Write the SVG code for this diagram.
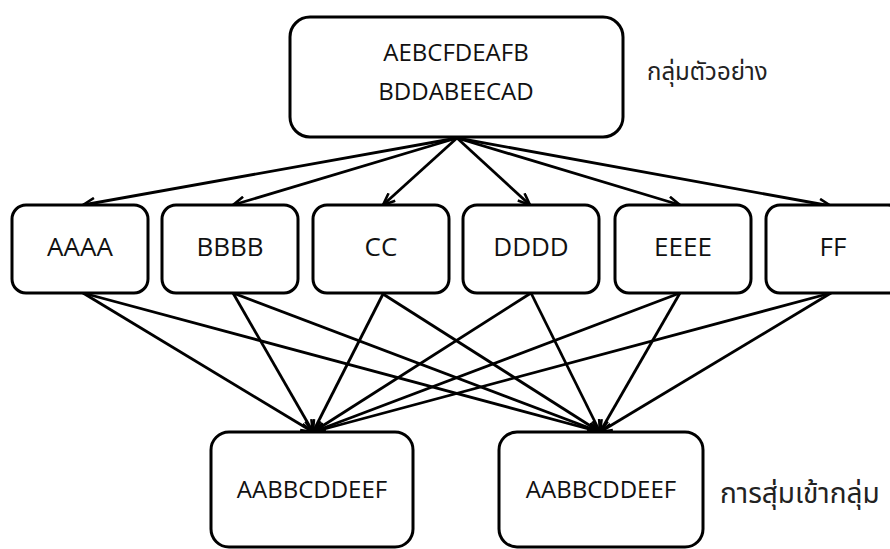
<svg xmlns="http://www.w3.org/2000/svg" width="890" height="549" viewBox="0 0 890 549">
<style>
.box{fill:#fff;stroke:#000;stroke-width:3}
.t{font-family:"Open Sans","Noto Sans","DejaVu Sans",sans-serif;font-size:24px;fill:#111;text-anchor:middle}
.m{font-size:26px}
.th{font-family:"Noto Sans Thai","Leelawadee UI","Tahoma","Noto Sans","DejaVu Sans",sans-serif;fill:#222}
.c line{stroke:#000;stroke-width:2.8}
</style>
<defs>
<marker id="ah" viewBox="0 0 14 12" refX="13" refY="6" markerWidth="14" markerHeight="12" markerUnits="userSpaceOnUse" orient="auto">
<path d="M1,1 L13,6 L1,11" fill="none" stroke="#000" stroke-width="2.6"/>
</marker>
</defs>
<rect width="890" height="549" fill="#fff"/>
<g class="c" id="connectors">
<line x1="457" y1="138" x2="83" y2="205" marker-end="url(#ah)"/>
<line x1="457" y1="138" x2="233" y2="205" marker-end="url(#ah)"/>
<line x1="457" y1="138" x2="383" y2="205" marker-end="url(#ah)"/>
<line x1="457" y1="138" x2="530" y2="205" marker-end="url(#ah)"/>
<line x1="457" y1="138" x2="680" y2="205" marker-end="url(#ah)"/>
<line x1="457" y1="138" x2="831" y2="206" marker-end="url(#ah)"/>
<line x1="83" y1="293" x2="313" y2="432" marker-end="url(#ah)"/>
<line x1="233" y1="293" x2="313" y2="432" marker-end="url(#ah)"/>
<line x1="383" y1="294" x2="313" y2="432" marker-end="url(#ah)"/>
<line x1="531" y1="293" x2="313" y2="432" marker-end="url(#ah)"/>
<line x1="680" y1="293" x2="313" y2="432" marker-end="url(#ah)"/>
<line x1="831" y1="293" x2="313" y2="432" marker-end="url(#ah)"/>
<line x1="83" y1="293" x2="600" y2="432" marker-end="url(#ah)"/>
<line x1="233" y1="293" x2="600" y2="432" marker-end="url(#ah)"/>
<line x1="383" y1="294" x2="600" y2="432" marker-end="url(#ah)"/>
<line x1="531" y1="293" x2="600" y2="432" marker-end="url(#ah)"/>
<line x1="680" y1="293" x2="600" y2="432" marker-end="url(#ah)"/>
<line x1="831" y1="293" x2="600" y2="432" marker-end="url(#ah)"/>
</g>
<g id="sample">
<rect class="box" x="290" y="17" width="333" height="120" rx="20"/>
<text class="t" x="456" y="61">AEBCFDEAFB</text>
<text class="t" x="456" y="100">BDDABEECAD</text>
</g>
<text class="th" x="647" y="80" font-size="24">กลุ่มตัวอย่าง</text>
<g id="nA"><rect class="box" x="12" y="205" width="136" height="88" rx="14"/><text class="t m" x="80" y="256">AAAA</text></g>
<g id="nB"><rect class="box" x="162" y="205" width="136" height="88" rx="14"/><text class="t m" x="230" y="256">BBBB</text></g>
<g id="nC"><rect class="box" x="313" y="205" width="136" height="88" rx="14"/><text class="t m" x="381" y="256">CC</text></g>
<g id="nD"><rect class="box" x="463" y="205" width="136" height="88" rx="14"/><text class="t m" x="531" y="256">DDDD</text></g>
<g id="nE"><rect class="box" x="615" y="205" width="136" height="88" rx="14"/><text class="t m" x="683" y="256">EEEE</text></g>
<g id="nF"><rect class="box" x="766" y="205" width="136" height="88" rx="14"/><text class="t m" x="833" y="256">FF</text></g>
<g id="r1"><rect class="box" x="211" y="432" width="202" height="115" rx="18"/><text class="t" x="312" y="498">AABBCDDEEF</text></g>
<g id="r2"><rect class="box" x="499" y="432" width="204" height="115" rx="18"/><text class="t" x="601" y="498">AABBCDDEEF</text></g>
<text class="th" x="720" y="503" font-size="28">การสุ่มเข้ากลุ่ม</text>
</svg>
